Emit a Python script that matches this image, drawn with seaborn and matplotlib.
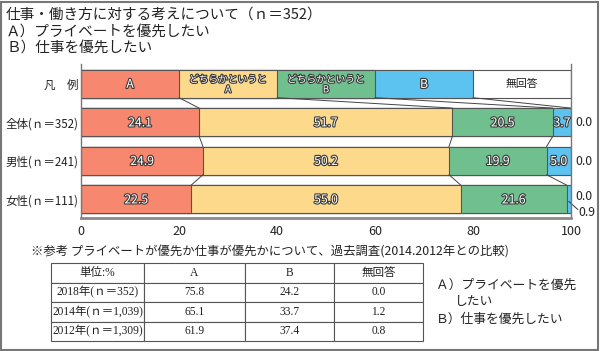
import numpy as np
import pandas as pd
import matplotlib.pyplot as plt
import matplotlib.patheffects as pe
import seaborn as sns

# データ
groups = ["凡　例", "全体(ｎ＝352)", "男性(ｎ＝241)", "女性(ｎ＝111)"]
segments = ["A", "どちらかというとA", "どちらかというとB", "B", "無回答"]
legend_labels = ["A", "どちらかというと\nA", "どちらかというと\nB", "B", "無回答"]
seg_colors = ["#F7886F", "#FDD98B", "#70C08F", "#5CC3F0", "#FFFFFF"]
legend_widths = [20, 20, 20, 20, 20]
val_all = [24.1, 51.7, 20.5, 3.7, 0.0]
val_male = [24.9, 50.2, 19.9, 5.0, 0.0]
val_female = [22.5, 55.0, 21.6, 0.9, 0.0]

table_cols = ["単位:%", "A", "B", "無回答"]
table_rows = ["2018年(ｎ＝352)", "2014年(ｎ＝1,039)", "2012年(ｎ＝1,309)"]
table_a = [75.8, 65.1, 61.9]
table_b = [24.2, 33.7, 37.4]
table_na = [0.0, 1.2, 0.8]

title_lines = ["仕事・働き方に対する考えについて（ｎ＝352）", "Ａ）プライベートを優先したい", "Ｂ）仕事を優先したい"]
note_text = "※参考 プライベートが優先か仕事が優先かについて、過去調査(2014.2012年との比較)"

sns.set_theme(style="white")
plt.rcParams["font.family"] = ["Noto Sans CJK JP", "DejaVu Sans"]

W, H = 600, 351
BAR_W = 0.73
outline = [pe.withStroke(linewidth=1.6, foreground="#3a3a3a")]

rows = [legend_widths, val_all, val_male, val_female]
cum = np.cumsum(np.array(rows), axis=1)
df = pd.DataFrame(cum, columns=segments)
df["group"] = groups

fig = plt.figure(figsize=(W / 100, H / 100), dpi=100)
ax = fig.add_axes([81 / W, 1 - 218 / H, 490 / W, 153.6 / H])

# 累積値を後ろから重ねて帯グラフにする
for k in range(len(segments) - 1, -1, -1):
    sns.barplot(
        data=df, x=segments[k], y="group", order=groups, orient="h",
        color=seg_colors[k], saturation=1, width=BAR_W,
        edgecolor="#555555", linewidth=0.8, errorbar=None, ax=ax,
    )

# 区切り線
for i in range(len(rows) - 1):
    for k in range(len(segments) - 1):
        ax.plot([cum[i][k], cum[i + 1][k]], [i + BAR_W / 2, i + 1 - BAR_W / 2],
                color="#444444", lw=0.7, clip_on=False)

# 凡例の文字
for k, lab in enumerate(legend_labels):
    xc = cum[0][k] - legend_widths[k] / 2
    if k < 4:
        fs = 8.8 if "\n" not in lab else 7.0
        ax.text(xc, 0.02, lab, ha="center", va="center", fontsize=fs, color="white",
                linespacing=1.0, path_effects=outline)
    else:
        ax.text(xc, 0, lab, ha="center", va="center", fontsize=7.8, color="#222222")

# 数値ラベル
for i, vals in enumerate(rows[1:], start=1):
    small_b = vals[3] < 2
    for k in range(4):
        v = vals[k]
        xc = cum[i][k] - v / 2
        if v >= 2:
            ax.text(xc, i + 0.02, f"{v:.1f}", ha="center", va="center", fontsize=8.8,
                    color="white", path_effects=outline)
        else:
            ax.text(103.2, i + 0.36, f"{v:.1f}", ha="center", va="center", fontsize=8.8,
                    color="#222222", clip_on=False)
            ax.plot([cum[i][k] - v / 2, 101.4], [i + 0.06, i + 0.27], color="#333333", lw=0.7,
                    clip_on=False)
    ax.text(102.6, i - (0.06 if small_b else -0.02), f"{vals[4]:.1f}", ha="center", va="center",
            fontsize=8.8, color="#222222", clip_on=False)

ax.set_xlim(0, 100)
ax.set_ylim(3.49, -0.5)
ax.set_xticks(range(0, 101, 20))
ax.set_xlabel("")
ax.set_ylabel("")
ax.tick_params(axis="both", length=0, colors="#222222")
ax.tick_params(axis="x", pad=5, labelsize=9)
ax.tick_params(axis="y", pad=2, labelsize=8.3)
ax.spines["top"].set_visible(False)
for side in ["left", "right"]:
    ax.spines[side].set_color("#777777")
    ax.spines[side].set_linewidth(1.0)
ax.spines["bottom"].set_color("#8a8a8a")
ax.spines["bottom"].set_linewidth(2.0)

# タイトル
for line, yy in zip(title_lines, [15, 32, 48]):
    fig.text(6 / W, 1 - yy / H, line, ha="left", va="center", fontsize=10.5, color="#222222")

fig.text(31 / W, 1 - 251 / H, note_text, ha="left", va="center", fontsize=8.9, color="#222222")

# 参考表
tax = fig.add_axes([51 / W, 1 - 341 / H, 372 / W, 78 / H])
tax.axis("off")
cell_text = [[r, f"{a:.1f}", f"{b:.1f}", f"{n:.1f}"]
             for r, a, b, n in zip(table_rows, table_a, table_b, table_na)]
col_w = np.array([93, 101, 89, 89]) / 372
tbl = tax.table(cellText=cell_text, colLabels=table_cols, colWidths=list(col_w),
                cellLoc="center", bbox=[0, 0, 1, 1])
tbl.auto_set_font_size(False)
for cell in tbl.get_celld().values():
    cell.set_edgecolor("#555555")
    cell.set_linewidth(0.8)
    cell.get_text().set_fontfamily(["Liberation Serif", "Noto Sans CJK JP"])
    cell.get_text().set_fontsize(8.3)
    cell.get_text().set_color("#222222")

fig.text(436 / W, 1 - 285 / H, "Ａ）プライベートを優先", ha="left", va="center", fontsize=9.2, color="#222222")
fig.text(455 / W, 1 - 302 / H, "したい", ha="left", va="center", fontsize=9.2, color="#222222")
fig.text(436 / W, 1 - 319 / H, "Ｂ）仕事を優先したい", ha="left", va="center", fontsize=9.2, color="#222222")

# 外枠
fig.add_artist(plt.Rectangle((1 / W, 1 / H), 597 / W, 348 / H, transform=fig.transFigure,
                             fill=False, ec="#777777", lw=1.5))

fig.savefig("out.png", dpi=100)
